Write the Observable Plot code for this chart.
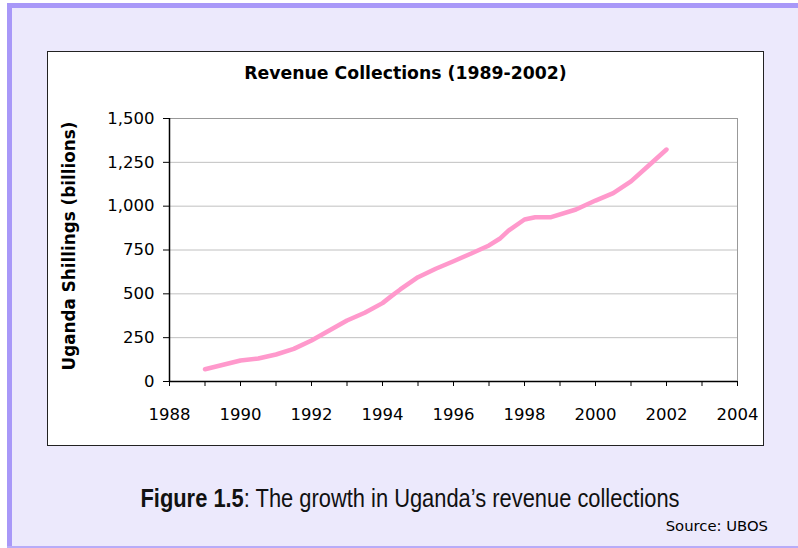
<!DOCTYPE html>
<html>
<head>
<meta charset="utf-8">
<script src="https://cdn.jsdelivr.net/npm/d3@7"></script>
<script src="https://cdn.jsdelivr.net/npm/@observablehq/plot@0.6"></script>
<style>
  html, body { margin: 0; padding: 0; background: #fff; }
  #page { position: relative; width: 798px; height: 548px; overflow: hidden; background: #fff; }
  #panel { position: absolute; left: 7px; top: 3px; width: 791px; height: 544px; background: #ECE9FC; }
  #topbar { position: absolute; left: 7px; top: 3px; width: 791px; height: 5px; background: #A898F8; }
  #leftbar { position: absolute; left: 7px; top: 3px; width: 5px; height: 544px; background: #A898F8; }
  #botbar { position: absolute; left: 7px; top: 546px; width: 791px; height: 2px; background: #B8ACF8; }
  #chart { position: absolute; left: 48px; top: 52px; width: 715px; height: 393px; background: #fff; }
  #chartborder { position: absolute; left: 47px; top: 51px; width: 715px; height: 393px; border: 1.5px solid #222; pointer-events: none; }
  #title { position: absolute; left: 48px; width: 715px; top: 63px; text-align: center; font: bold 17.3px "DejaVu Sans", sans-serif; color: #000; }
  #ylabel { position: absolute; left: 69px; top: 246px; transform: translate(-50%, -50%) rotate(-90deg); white-space: nowrap; font: bold 16.8px "DejaVu Sans", sans-serif; color: #000; }
  #caption { position: absolute; left: 0; width: 820px; top: 484px; text-align: center; font-family: "Liberation Sans", Arial, sans-serif; font-size: 25px; color: #111; white-space: nowrap; transform: scaleX(0.875); transform-origin: 410px 0; }
  #source { position: absolute; right: 30px; top: 517px; font: 14.8px "DejaVu Sans", sans-serif; color: #000; }
</style>
</head>
<body>
<div id="page">
  <div id="panel"></div>
  <div id="topbar"></div>
  <div id="leftbar"></div>
  <div id="botbar"></div>
  <div id="chart"></div>
  <div id="chartborder"></div>
  <div id="title">Revenue Collections (1989-2002)</div>
  <div id="ylabel">Uganda Shillings (billions)</div>
  <div id="caption"><b>Figure 1.5</b>: The growth in Uganda’s revenue collections</div>
  <div id="source">Source: UBOS</div>
</div>
<script>
const years = [1989, 1990, 1990.5, 1991, 1991.5, 1992, 1992.5, 1993, 1993.5, 1994, 1994.25, 1994.5, 1995, 1995.5, 1996, 1996.5, 1997, 1997.3, 1997.55, 1998, 1998.3, 1998.75, 1999.45, 2000, 2000.5, 2001, 2001.5, 2002];
const revenue = [70, 120, 131, 154, 186, 234, 291, 348, 392, 447, 487, 525, 595, 643, 686, 730, 776, 814, 861, 924, 937, 937, 981, 1032, 1074, 1141, 1232, 1323];
const yTicks = [0, 250, 500, 750, 1000, 1250, 1500];
const xMinorTicks = d3.range(1988, 2005, 1);
const xLabelTicks = [1988, 1990, 1992, 1994, 1996, 1998, 2000, 2002, 2004];

const data = years.map((y, i) => ({year: y, value: revenue[i]}));

const chart = Plot.plot({
  width: 715,
  height: 393,
  marginLeft: 121,
  marginRight: 26,
  marginTop: 66,
  marginBottom: 64,
  style: {fontFamily: "DejaVu Sans, sans-serif", fontSize: "16.5px", color: "#000", background: "transparent", overflow: "visible"},
  x: {domain: [1988, 2004]},
  y: {domain: [0, 1500]},
  marks: [
    Plot.gridY(yTicks, {stroke: "#c0c0c0", strokeOpacity: 1}),
    Plot.frame({stroke: "#999"}),
    Plot.axisY(yTicks, {tickSize: 6, tickPadding: 9, tickFormat: d3.format(","), label: null, stroke: "#000"}),
    Plot.axisX(xMinorTicks, {tickSize: 5, tickFormat: () => "", label: null, stroke: "#000"}),
    Plot.axisX(xLabelTicks, {tickSize: 0, tickPadding: 27, tickFormat: d3.format("d"), label: null}),
    Plot.ruleX([1988], {stroke: "#000", strokeWidth: 1.5}),
    Plot.ruleY([0], {stroke: "#000", strokeWidth: 1.5}),
    Plot.line(data, {x: "year", y: "value", stroke: "#FF99CC", strokeWidth: 4.5, strokeLinejoin: "round", strokeLinecap: "round"})
  ]
});
chart.style.position = "absolute";
chart.style.left = "48px";
chart.style.top = "52px";
document.getElementById("page").insertBefore(chart, document.getElementById("chartborder"));
</script>
</body>
</html>
